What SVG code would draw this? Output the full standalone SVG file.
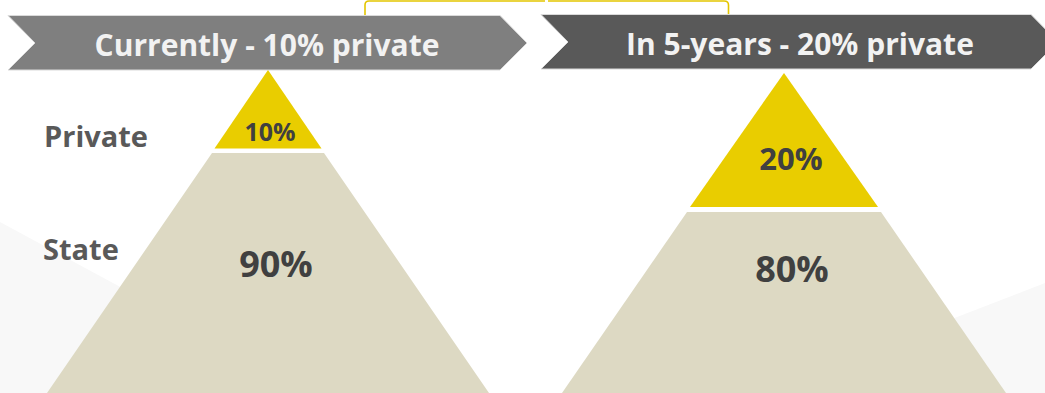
<svg xmlns="http://www.w3.org/2000/svg" width="1045" height="393" viewBox="0 0 1045 393">
<style>
.bg{fill:#F8F8F8}
.ban1{fill:#7F7F7F;stroke:#DADADA;stroke-width:1}
.ban2{fill:#595959;stroke:#DADADA;stroke-width:1}
.bt{font-family:"Open Sans","Noto Sans",sans-serif;font-weight:bold;font-size:30px;fill:#F2F2F2;text-anchor:middle}
.lbl{font-family:"Open Sans","Noto Sans",sans-serif;font-weight:bold;font-size:29px;fill:#595959}
.pct{font-family:"Open Sans","Noto Sans",sans-serif;font-weight:bold;fill:#404040;text-anchor:middle}
.top{fill:#E9CD00}
.base{fill:#DDD9C3}
.br{fill:none;stroke:#E3C600;stroke-width:1.6}
</style>
<rect width="1045" height="393" fill="#FFFFFF"/>
<polygon class="bg" points="0,222 300,384 300,393 0,393"/>
<polygon class="bg" points="1045,283 900,339 900,393 1045,393"/>
<g id="connectors">
<path class="br" d="M365,15 V5 Q365,1 369,1 H545"/>
<path class="br" d="M548,1 H724 Q728.5,1 728.5,5 V15"/>
</g>
<g id="banner-current">
<polygon class="ban1" points="8,15.5 500,15.5 527,43 500,70 8,70 35,43"/>
<text class="bt" x="267" y="55.5">Currently - 10% private</text>
</g>
<g id="banner-future">
<polygon class="ban2" points="541,14.5 1031,14.5 1058,42 1031,69 541,69 568,42"/>
<text class="bt" x="800" y="54.5">In 5-years - 20% private</text>
</g>
<g id="labels">
<text class="lbl" x="44" y="146.5">Private</text>
<text class="lbl" x="43" y="259.5">State</text>
</g>
<g id="pyramid-current">
<polygon class="base" points="212,153 324,153 489,393 47,393"/>
<polygon class="top" points="268,70 321.5,148.5 214.5,148.5"/>
<text class="pct" x="270" y="140.5" font-size="25">10%</text>
<text class="pct" x="276" y="277" font-size="36">90%</text>
</g>
<g id="pyramid-future">
<polygon class="base" points="687,212 881,212 1006,393 562,393"/>
<polygon class="top" points="784,73 878,207 690,207"/>
<text class="pct" x="791" y="170" font-size="31">20%</text>
<text class="pct" x="792" y="281.5" font-size="36">80%</text>
</g>
</svg>
